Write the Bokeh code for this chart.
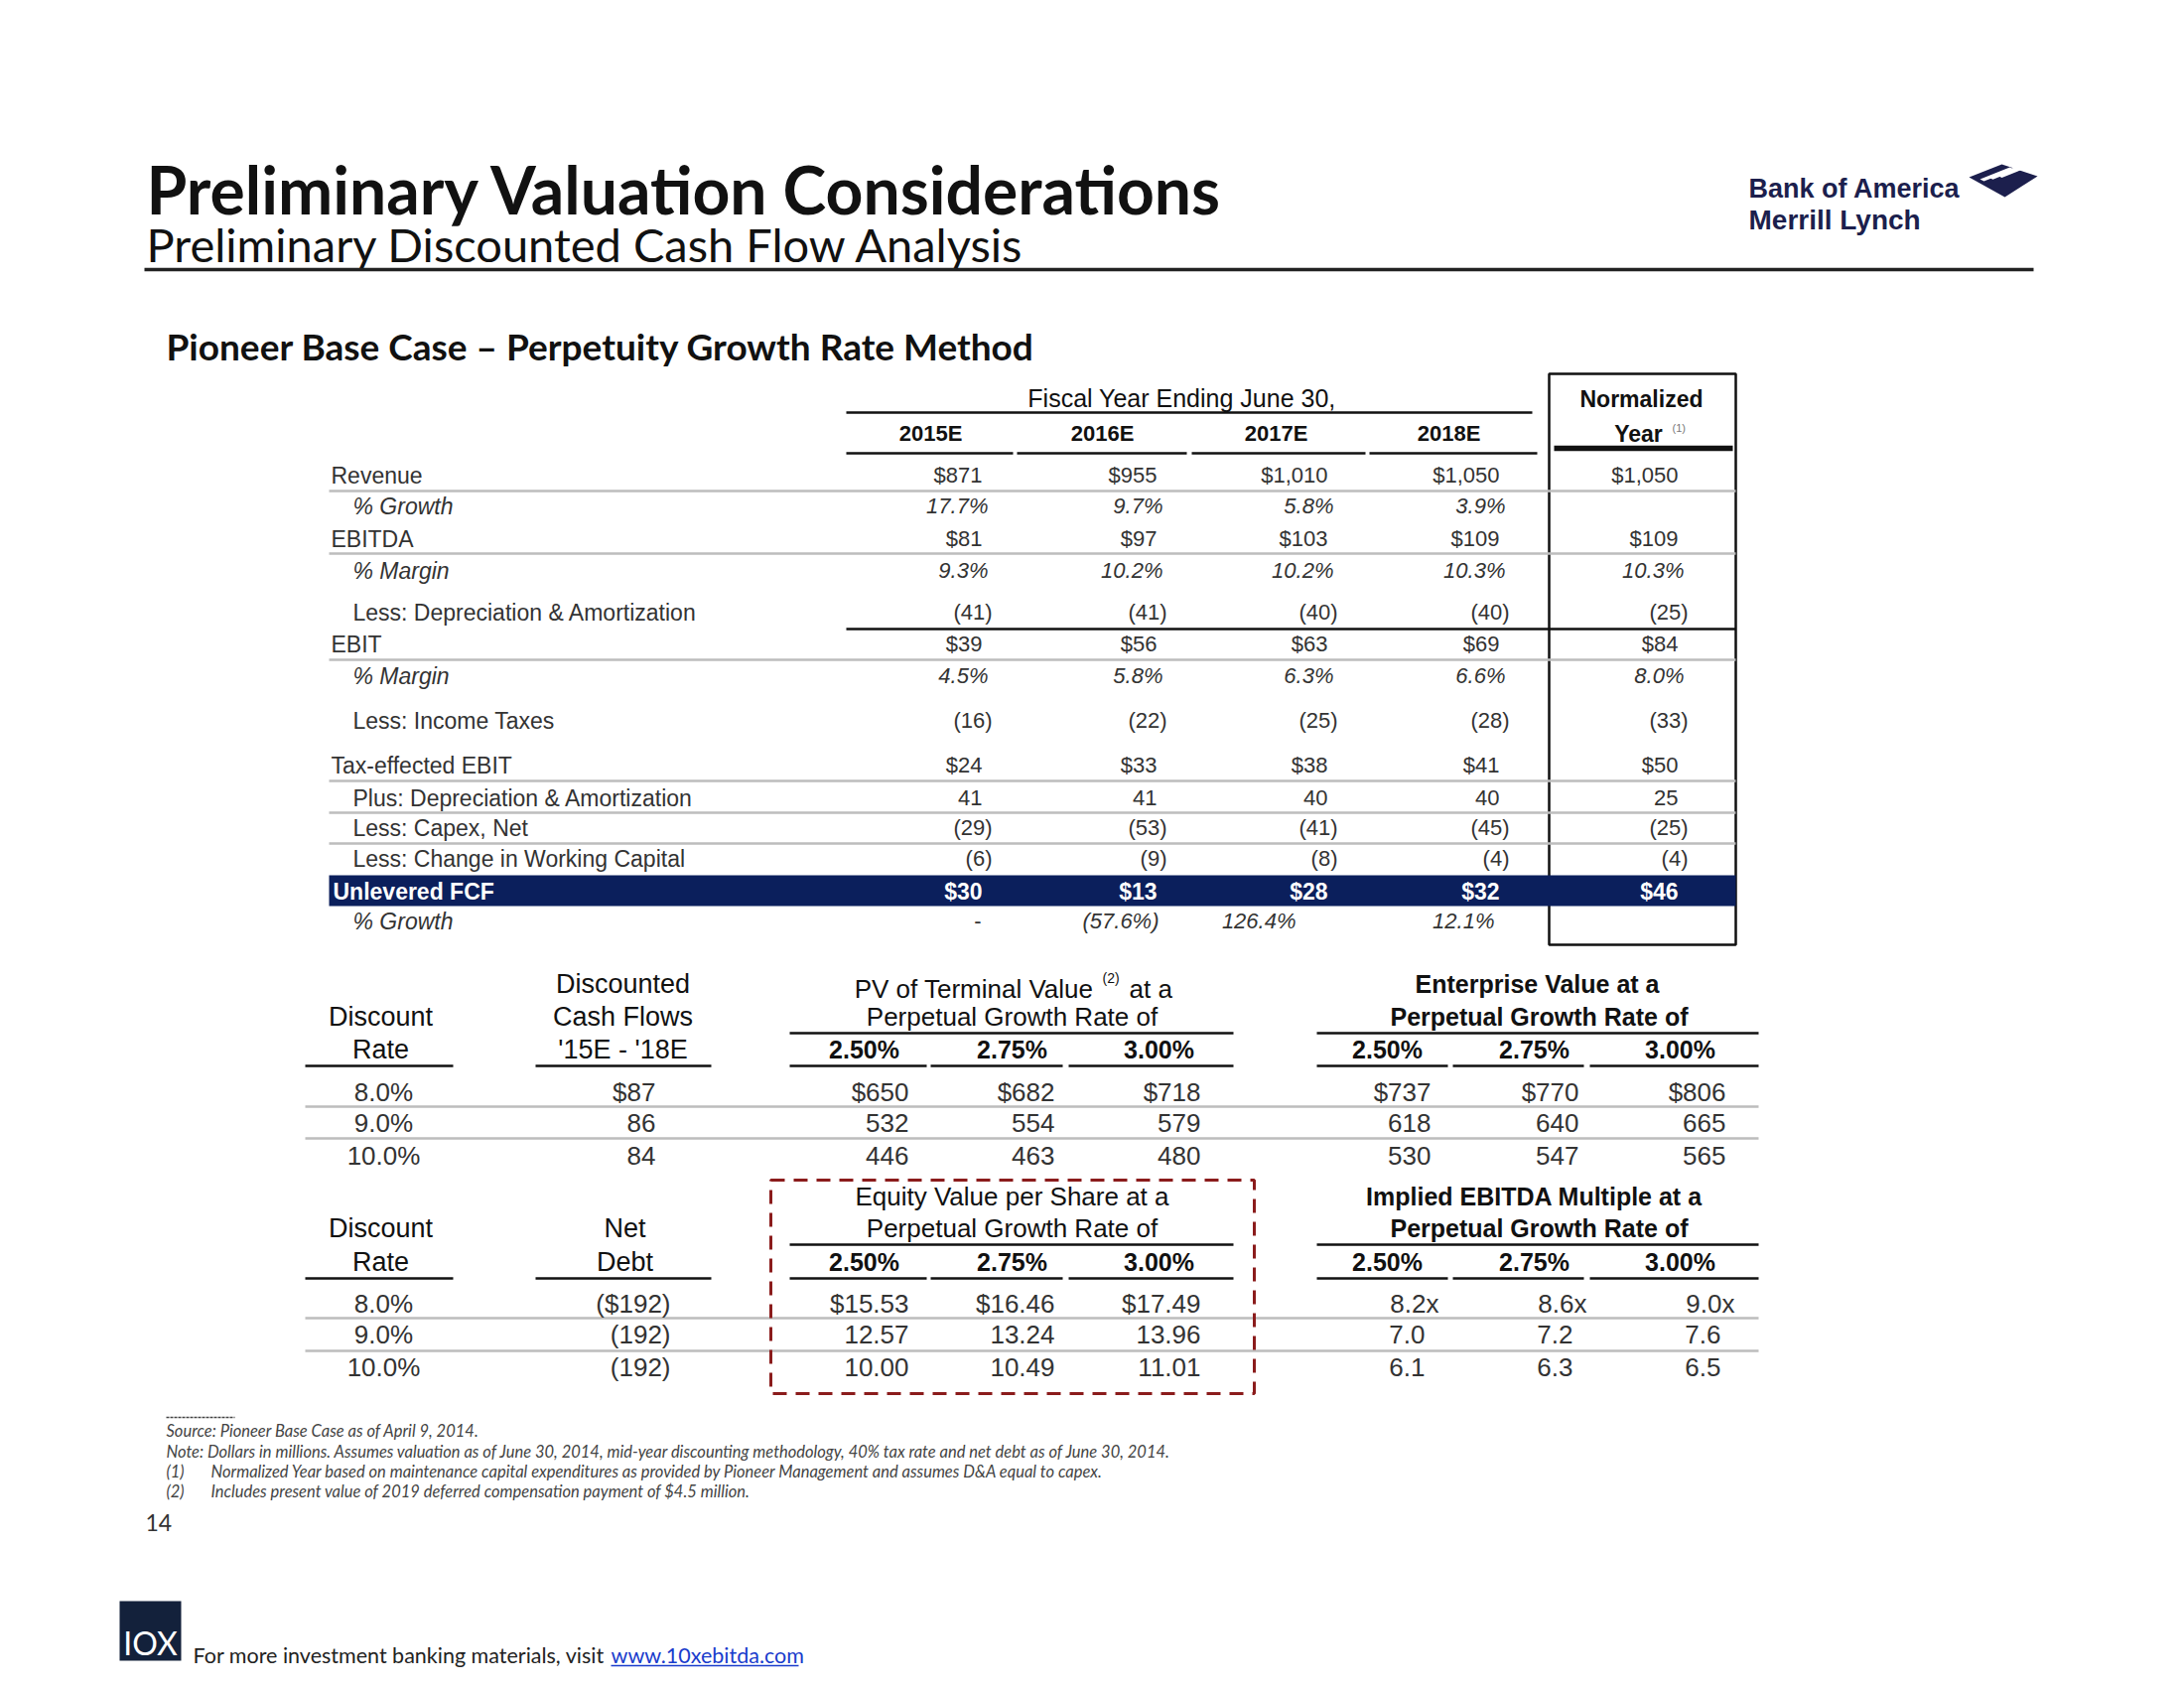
from bokeh.plotting import figure
from bokeh.models import Range1d
from bokeh.embed import file_html
from bokeh.resources import INLINE
from bokeh.core.properties import value

# ---------------- data ----------------
title = "Preliminary Valuation Considerations"
subtitle = "Preliminary Discounted Cash Flow Analysis"
section = "Pioneer Base Case \u2013 Perpetuity  Growth Rate Method"

years = ["2015E", "2016E", "2017E", "2018E"]
row_labels = ["Revenue", "% Growth", "EBITDA", "% Margin", "Less: Depreciation & Amortization",
              "EBIT", "% Margin", "Less: Income Taxes", "Tax-effected EBIT",
              "Plus: Depreciation & Amortization", "Less: Capex, Net",
              "Less: Change in Working Capital", "Unlevered FCF", "% Growth"]
revenue = [871, 955, 1010, 1050, 1050]
rev_growth = [17.7, 9.7, 5.8, 3.9, None]
ebitda = [81, 97, 103, 109, 109]
ebitda_margin = [9.3, 10.2, 10.2, 10.3, 10.3]
less_da = [-41, -41, -40, -40, -25]
ebit = [39, 56, 63, 69, 84]
ebit_margin = [4.5, 5.8, 6.3, 6.6, 8.0]
income_taxes = [-16, -22, -25, -28, -33]
tax_ebit = [24, 33, 38, 41, 50]
plus_da = [41, 41, 40, 40, 25]
capex = [-29, -53, -41, -45, -25]
change_nwc = [-6, -9, -8, -4, -4]
unlevered_fcf = [30, 13, 28, 32, 46]
fcf_growth = ["-", -57.6, 126.4, 12.1, None]

discount_rates = [8.0, 9.0, 10.0]
growth_rates = [2.50, 2.75, 3.00]
dcf_15_18 = [87, 86, 84]
pv_terminal = [[650, 682, 718], [532, 554, 579], [446, 463, 480]]
enterprise_value = [[737, 770, 806], [618, 640, 665], [530, 547, 565]]
net_debt = [-192, -192, -192]
equity_per_share = [[15.53, 16.46, 17.49], [12.57, 13.24, 13.96], [10.00, 10.49, 11.01]]
ebitda_multiple = [[8.2, 8.6, 9.0], [7.0, 7.2, 7.6], [6.1, 6.3, 6.5]]

footnotes = [
    ("", "Source: Pioneer Base Case as of April 9, 2014."),
    ("", "Note: Dollars in millions. Assumes valuation as of June 30, 2014, mid-year discounting methodology, 40% tax rate and net debt as of June 30, 2014."),
    ("(1)", "Normalized Year based on maintenance capital expenditures as provided by Pioneer Management and assumes D&A equal to capex."),
    ("(2)", "Includes present value of 2019 deferred compensation payment of $4.5 million."),
]

# ---------------- styling ----------------
ARIAL = "Liberation Sans"
CAL = "Lato"
INK = "#333333"
DARK = "#111111"
NAVY = "#0b1f5c"
GRAY = "#bdbdbd"
LOGO = "#1c1f4d"

p = figure(width=2184, height=1684, x_range=Range1d(0, 2184), y_range=Range1d(1684, 0),
           output_backend="svg", toolbar_location=None, min_border=0,
           x_axis_location=None, y_axis_location=None, outline_line_color=None)
p.grid.visible = False
p.background_fill_color = "white"
p.border_fill_color = "white"


def T(x, y, s, size, align="left", base="middle", bold=False, italic=False, font=ARIAL, color=INK):
    n = max(len(v) if isinstance(v, list) else 1 for v in (x, y, s))
    xs = x if isinstance(x, list) else [x] * n
    ys = y if isinstance(y, list) else [y] * n
    ss = s if isinstance(s, list) else [s] * n
    style = "bold italic" if (bold and italic) else "bold" if bold else "italic" if italic else "normal"
    p.text(x=xs, y=ys, text=ss, text_align=align, text_baseline=base,
           text_font=value(font), text_font_size=f"{size}px", text_font_style=style, text_color=color)


def L(x0, y0, x1, y1, color=DARK, width=2.5, dash="solid"):
    p.segment(x0=[x0], y0=[y0], x1=[x1], y1=[y1], line_color=color, line_width=width, line_dash=dash)


def fmt(v, kind):
    if v is None:
        return ""
    if isinstance(v, str):
        return v
    if kind == "pct":
        s = f"{abs(v):.1f}%"
        return f"({s})" if v < 0 else s
    if kind == "usd":
        return f"(${abs(v):,})" if v < 0 else f"${v:,}"
    return f"({abs(v):,})" if v < 0 else f"{v:,}"


# ---------------- header ----------------
T(147, 190, title, 66, bold=True, font=CAL, color="#111111")
T(147, 245, subtitle, 47, font=CAL, color="#111111")
L(145, 271, 2048, 271, color="#222222", width=3.5)

# logo
T(1761, 189, "Bank of America", 27, bold=True, color=LOGO)
T(1761, 221, "Merrill Lynch", 28, bold=True, color=LOGO)
p.patch(x=[1983, 2016, 2052, 2019], y=[178, 165, 177, 198], fill_color=LOGO, line_color=None)
for k in range(3):
    d = 9 * k
    p.patch(x=[1994 + d, 2024 + d, 2028 + d, 1998 + d],
            y=[180 - d * 0.2, 168 - d * 0.2, 170 - d * 0.2, 182 - d * 0.2],
            fill_color="white", line_color=None)

T(167, 348, section, 37, bold=True, font=CAL, color="#111111")

# ---------------- main table ----------------
row_y = [478, 509, 542, 574, 616, 648, 680, 725, 770, 803, 833, 864, 897, 927]
row_indent = [0, 1, 0, 1, 1, 0, 1, 1, 0, 1, 1, 1, 0, 1]
row_kind = ["usd", "pct", "usd", "pct", "num", "usd", "pct", "num", "usd", "num", "num", "num", "usd", "pct"]
row_vals = [revenue, rev_growth, ebitda, ebitda_margin, less_da, ebit, ebit_margin, income_taxes,
            tax_ebit, plus_da, capex, change_nwc, unlevered_fcf, fcf_growth]
col_right = [989, 1165, 1337, 1510, 1690]
last_row_shift = [0, -8, -38, -11, 0]

# header
T(1190, 400, "Fiscal Year Ending June 30,", 25, align="center", color=DARK)
L(852, 415, 1543, 415)
year_cx = [937, 1110, 1285, 1459]
T(year_cx, 436, years, 22, align="center", bold=True, color=DARK)
for a, b in [(852, 1020), (1024, 1195), (1200, 1375), (1379, 1548)]:
    L(a, 456, b, 456)

# normalized box
p.quad(left=[1560], right=[1748], top=[376], bottom=[951], fill_color=None, line_color=DARK, line_width=2.5)
T(1653, 401, "Normalized", 23, align="center", bold=True, color=DARK)
T(1650, 436, "Year", 23, align="center", bold=True, color=DARK)
T(1684, 430, "(1)", 11, align="left", color="#777777")
L(1565, 451, 1745, 451, width=5.5)

# gray row lines
for gy in [494, 557, 664, 786, 818, 849]:
    L(331, gy, 1748, gy, color=GRAY, width=2.5)
L(852, 633, 1748, 633, width=2.5)

# FCF bar
p.quad(left=[331], right=[1748], top=[881], bottom=[912], fill_color=NAVY, line_color=None)

for i, (lab, y) in enumerate(zip(row_labels, row_y)):
    is_fcf = lab == "Unlevered FCF"
    italic = row_kind[i] == "pct"
    lx = 355 if row_indent[i] else 333
    T(lx + (2 if is_fcf else 0), y, lab, 23, bold=is_fcf, italic=italic,
      color="white" if is_fcf else INK)
    for j, v in enumerate(row_vals[i]):
        s = fmt(v, row_kind[i])
        if not s:
            continue
        if s == "-":
            T(col_right[j] - 1, y, s, 22, align="right", color=INK)
            continue
        off = 10 if s.endswith(")") else 6 if s.endswith("%") else 0
        if i == len(row_labels) - 1:
            off += last_row_shift[j]
        T(col_right[j] + off, y, s, 23 if is_fcf else 22, align="right", bold=is_fcf, italic=italic,
          color="white" if is_fcf else INK)

# ---------------- sensitivity blocks ----------------
top_rows = [1099, 1130, 1163]
bot_rows = [1312, 1343, 1376]
for gy in [1114, 1146, 1327, 1360]:
    L(307, gy, 1771, gy, color=GRAY, width=2.5)

pct_lbl = [f"{g:.2f}%" for g in growth_rates]
dr_lbl = [f"{d:.1f}%" for d in discount_rates]

HS = 27   # header size
VS = 26   # value size

# Block A: discount rate (upper & lower)
for (y1, y2, yl, rows) in [(1023, 1056, 1073, top_rows), (1236, 1270, 1287, bot_rows)]:
    T(383, y1, "Discount", HS, align="center", color=DARK)
    T(383, y2, "Rate", HS, align="center", color=DARK)
    L(307, yl, 456, yl)
    T(386, rows, dr_lbl, VS, align="center", color=INK)

# Block B upper: discounted cash flows
T(627, 990, "Discounted", HS, align="center", color=DARK)
T(627, 1023, "Cash Flows", HS, align="center", color=DARK)
T(627, 1056, "'15E - '18E", HS, align="center", color=DARK)
L(539, 1073, 716, 1073)
T(660, top_rows, [("$" if k == 0 else "") + f"{v}" for k, v in enumerate(dcf_15_18)], VS, align="right")

# Block B lower: net debt
T(629, 1236, "Net", HS, align="center", color=DARK)
T(629, 1270, "Debt", HS, align="center", color=DARK)
L(539, 1287, 716, 1287)
T(675, bot_rows, [("($" if k == 0 else "(") + f"{abs(v)})" for k, v in enumerate(net_debt)], VS, align="right")

# Block C upper: PV of terminal value
T(1101, 995, "PV of Terminal Value", 26, align="right", color=DARK)
T(1110, 984, "(2)", 14, align="left", color=DARK)
T(1137, 995, "at a", 26, align="left", color=DARK)
T(1019, 1023, "Perpetual Growth Rate of", 26, align="center", color=DARK)
L(795, 1040, 1242, 1040)
c_cx = [870, 1019, 1167]
c_rx = [915, 1062, 1209]
c_seg = [(795, 933), (937, 1070), (1076, 1242)]
T(c_cx, 1056, pct_lbl, 25, align="center", bold=True, color=DARK)
for a, b in c_seg:
    L(a, 1073, b, 1073)
for r, y in enumerate(top_rows):
    T(c_rx, y, [("$" if r == 0 else "") + f"{v}" for v in pv_terminal[r]], VS, align="right")

# Block C lower: equity value per share (dashed box)
T(1019, 1204, "Equity Value per Share at a", 26, align="center", color=DARK)
T(1019, 1236, "Perpetual Growth Rate of", 26, align="center", color=DARK)
L(795, 1253, 1242, 1253)
T(c_cx, 1270, pct_lbl, 25, align="center", bold=True, color=DARK)
for a, b in c_seg:
    L(a, 1287, b, 1287)
for r, y in enumerate(bot_rows):
    T(c_rx, y, [("$" if r == 0 else "") + f"{v:.2f}" for v in equity_per_share[r]], VS, align="right")
p.quad(left=[776], right=[1263], top=[1188], bottom=[1403], fill_color=None,
       line_color="#8b1c1c", line_width=3, line_dash="14 9")

# Block D upper: enterprise value
T(1548, 990, "Enterprise Value at a", 25, align="center", bold=True, color=DARK)
T(1550, 1023, "Perpetual Growth Rate of", 25, align="center", bold=True, color=DARK)
L(1326, 1040, 1771, 1040)
d_cx = [1397, 1545, 1692]
d_seg = [(1326, 1458), (1463, 1595), (1601, 1771)]
T(d_cx, 1056, pct_lbl, 25, align="center", bold=True, color=DARK)
for a, b in d_seg:
    L(a, 1073, b, 1073)
d_rx = [1441, 1590, 1738]
for r, y in enumerate(top_rows):
    T(d_rx, y, [("$" if r == 0 else "") + f"{v}" for v in enterprise_value[r]], VS, align="right")

# Block D lower: implied EBITDA multiple
T(1545, 1204, "Implied EBITDA Multiple at a", 25, align="center", bold=True, color=DARK)
T(1550, 1236, "Perpetual Growth Rate of", 25, align="center", bold=True, color=DARK)
L(1326, 1253, 1771, 1253)
T(d_cx, 1270, pct_lbl, 25, align="center", bold=True, color=DARK)
for a, b in d_seg:
    L(a, 1287, b, 1287)
m_rx = [1435, 1584, 1733]
for r, y in enumerate(bot_rows):
    if r == 0:
        T([x + 14 for x in m_rx], y, [f"{v:.1f}x" for v in ebitda_multiple[r]], VS, align="right")
    else:
        T(m_rx, y, [f"{v:.1f}" for v in ebitda_multiple[r]], VS, align="right")

# ---------------- footnotes ----------------
L(167, 1427, 236, 1427, color="#444444", width=1.5, dash="3 1")
fn_y = [1440, 1461, 1481, 1501]
for (mark, txt), y in zip(footnotes, fn_y):
    if mark:
        T(167, y, mark, 16.5, italic=True, font=CAL, color="#444444")
        T(212, y, txt, 16.5, italic=True, font=CAL, color="#444444")
    else:
        T(167, y, txt, 16.5, italic=True, font=CAL, color="#444444")
T(146, 1533, "14", 23, font=CAL, color="#333333")

# ---------------- footer ----------------
p.quad(left=[120], right=[182], top=[1612], bottom=[1672], fill_color="#13213b", line_color=None)
T(151, 1654, "IOX", 32, align="center", font=CAL, color="white")
T(194, 1666, "For more investment banking materials, visit", 21.5, font=CAL, color="#222222")
T(615, 1666, "www.10xebitda.com", 21.5, font=CAL, color="#1a3ccc")
L(615, 1677, 804, 1677, color="#1a3ccc", width=1.5)

open("out.html", "w").write(file_html(p, INLINE))
